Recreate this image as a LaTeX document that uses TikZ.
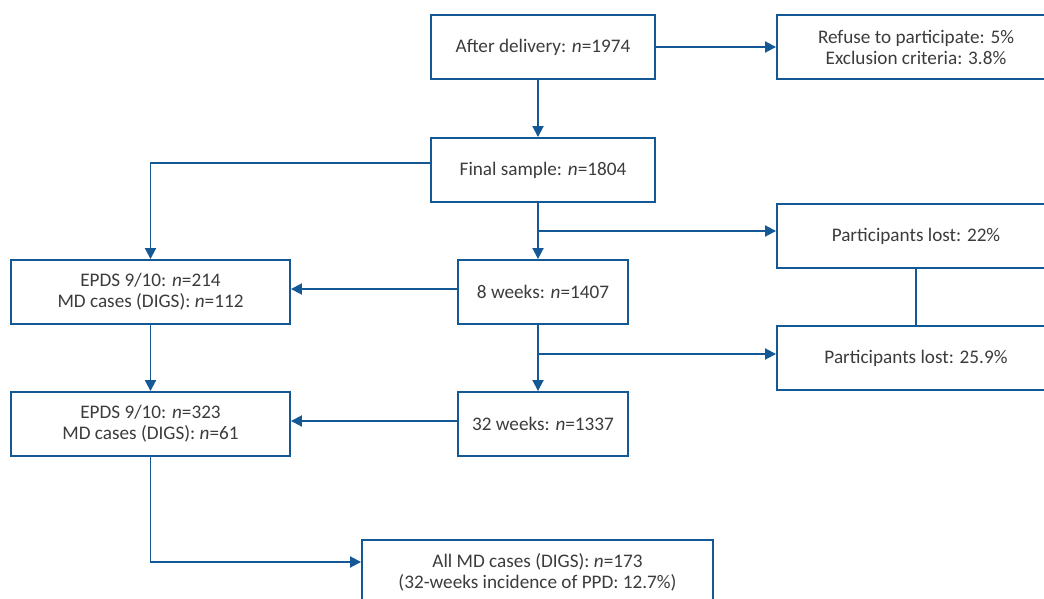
\documentclass[tikz,border=0pt]{standalone}
\usepackage{fontspec}
\setmainfont{Carlito}
\usetikzlibrary{arrows.meta}
\definecolor{flowblue}{RGB}{20,88,150}
\definecolor{flowtext}{RGB}{60,60,60}
\tikzset{
  box/.style={draw=flowblue, line width=1.9pt, fill=white, text=flowtext,
    align=center, minimum height=64pt, inner sep=2pt,
    font=\fontsize{19.2}{21}\selectfont},
  arr/.style={draw=flowblue, line width=1.9pt, -{Triangle[length=11pt,width=11pt]}},
  link/.style={draw=flowblue, line width=1.9pt},
}
\begin{document}
\begin{tikzpicture}[x=1pt,y=-1pt]
  \useasboundingbox (0,0) rectangle (1044,599);
  \clip (0,0) rectangle (1044,599);
  \coordinate (spine) at (538,0);
      % main column
      \node[box, minimum width=224pt] (after) at (543,47) {After delivery: \textit{n}=1974};
      \node[box, minimum width=224pt] (final) at (543,170) {Final sample: \textit{n}=1804};
      \node[box, minimum width=170pt] (wk8) at (543,292) {8 weeks: \textit{n}=1407};
      \node[box, minimum width=170pt] (wk32) at (543,424) {32 weeks: \textit{n}=1337};
      \node[box, minimum width=351pt] (allmd) at (537.5,572) {All MD cases (DIGS): \textit{n}=173\\(32-weeks incidence of PPD: 12.7\%)};
      % left column
      \node[box, minimum width=279pt] (epdsA) at (150.5,292) {EPDS 9/10: \textit{n}=214\\MD cases (DIGS): \textit{n}=112};
      \node[box, minimum width=279pt] (epdsB) at (150.5,424) {EPDS 9/10: \textit{n}=323\\MD cases (DIGS): \textit{n}=61};
      % right column
      \node[box, minimum width=278pt] (refuse) at (916,47) {Refuse to participate: 5\%\\Exclusion criteria: 3.8\%};
      \node[box, minimum width=278pt] (lostA) at (916,236) {Participants lost: 22\%};
      \node[box, minimum width=278pt] (lostB) at (916,358) {Participants lost: 25.9\%};
      \coordinate (brA) at (538,231);
      \coordinate (brB) at (538,354);
      % connectors
      \draw[arr] (after) -- (refuse);
      \draw[arr] (after.south -| spine) -- (final.north -| spine);
      \draw[arr] ([yshift=7pt]final.west) -| (epdsA.north);
      \draw[arr] (final.south -| spine) -- (wk8.north -| spine);
      \draw[arr] (brA) -- (brA -| lostA.west);
      \draw[link] (lostA) -- (lostB);
      \draw[arr] ([yshift=3pt]wk8.west) -- ([yshift=3pt]epdsA.east);
      \draw[arr] (wk8.south -| spine) -- (wk32.north -| spine);
      \draw[arr] (brB) -- (brB -| lostB.west);
      \draw[arr] ([yshift=3pt]wk32.west) -- ([yshift=3pt]epdsB.east);
      \draw[arr] (epdsA) -- (epdsB);
      \draw[arr] (epdsB.south) |- ([yshift=10pt]allmd.west);
  \end{tikzpicture}
\end{document}
